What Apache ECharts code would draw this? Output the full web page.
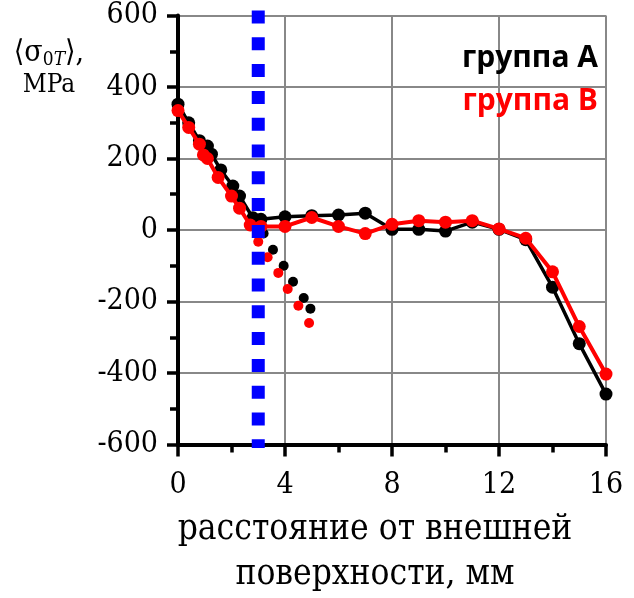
<!DOCTYPE html>
<html><head><meta charset="utf-8">
<script src="https://cdn.jsdelivr.net/npm/echarts@6/dist/echarts.min.js"></script>
<style>html,body{margin:0;padding:0;background:#fff}#c{width:634px;height:598px}</style>
</head><body><div id="c"></div>
<script>
// group A main curve
const xA = [0, 0.4, 0.8, 1.1, 1.25, 1.6, 2.05, 2.3, 2.8, 3.1, 4, 5, 6, 7, 8, 9, 10, 11, 12, 13, 14, 15, 16];
const yA = [352, 300, 250, 235, 212, 168, 123, 95, 34, 30, 37, 40, 42, 47, 2, 2, -3, 22, 2, -27, -160, -318, -459];
// group B main curve
const xB = [0, 0.4, 0.8, 0.95, 1.1, 1.5, 2.0, 2.3, 2.7, 3.1, 4, 5, 6, 7, 8, 9, 10, 11, 12, 13, 14, 15, 16];
const yB = [334, 287, 240, 210, 200, 147, 95, 61, 14, 10, 10, 35, 10, -10, 16, 26, 22, 26, 3, -23, -117, -270, -403];
// separate dots (no line)
const xDotA = [3.2, 3.55, 3.95, 4.3, 4.7, 4.95];
const yDotA = [-10, -55, -100, -145, -190, -220];
const xDotB = [3.0, 3.35, 3.75, 4.1, 4.5, 4.9];
const yDotB = [-33, -76, -120, -165, -212, -260];
// vertical dotted marker
const markerX = 3;
const markerY = [614, -610];
// axes
const xTicks = [0, 4, 8, 12, 16];
const yTicks = [-600, -400, -200, 0, 200, 400, 600];
const legendNames = ['группа А', 'группа В'];
const xTitle = ['расстояние от внешней', 'поверхности, мм'];

const zip = (a, b) => a.map((v, i) => [v, b[i]]);
const serif = '"DejaVu Serif Condensed", "DejaVu Serif", serif';
const chart = echarts.init(document.getElementById('c'), null, {renderer: 'canvas'});
chart.setOption({
  animation: false,
  backgroundColor: '#fff',
  grid: {left: 178, right: 28, top: 15.5, bottom: 153.5, containLabel: false},
  xAxis: {
    type: 'value', min: xTicks[0], max: xTicks[xTicks.length - 1], interval: 4,
    axisLine: {show: true, onZero: false, lineStyle: {color: '#000', width: 4}},
    axisTick: {show: true, inside: false, length: 12, lineStyle: {color: '#000', width: 3.5}},
    minorTick: {show: true, splitNumber: 2, length: 8, lineStyle: {color: '#000', width: 3.5}},
    axisLabel: {margin: 26, fontFamily: serif, fontSize: 30, color: '#000'},
    splitLine: {show: true, lineStyle: {color: '#888', width: 2}}
  },
  yAxis: {
    type: 'value', min: yTicks[0], max: yTicks[yTicks.length - 1], interval: 200,
    axisLine: {show: true, onZero: false, lineStyle: {color: '#000', width: 4}},
    axisTick: {show: true, inside: false, length: 11, lineStyle: {color: '#000', width: 3.5}},
    minorTick: {show: true, splitNumber: 2, length: 8, lineStyle: {color: '#000', width: 3.5}},
    axisLabel: {margin: 20, fontFamily: serif, fontSize: 30, color: '#000'},
    splitLine: {show: true, lineStyle: {color: '#888', width: 2}}
  },
  series: [
    {type: 'line', data: zip(xA, yA), symbol: 'circle', symbolSize: 13, z: 3,
     itemStyle: {color: '#000', opacity: 1}, lineStyle: {color: '#000', width: 3.5}},
    {type: 'line', data: zip(xB, yB), symbol: 'circle', symbolSize: 13, z: 4,
     itemStyle: {color: '#ff0000', opacity: 1}, lineStyle: {color: '#ff0000', width: 4}},
    {type: 'scatter', data: zip(xDotA, yDotA), symbol: 'circle', symbolSize: 10, z: 3,
     itemStyle: {color: '#000', opacity: 1}},
    {type: 'scatter', data: zip(xDotB, yDotB), symbol: 'circle', symbolSize: 10, z: 4,
     itemStyle: {color: '#ff0000', opacity: 1}},
    {type: 'line', data: markerY.map(v => [markerX, v]), symbol: 'none', clip: false, z: 6,
     lineStyle: {color: '#0000ff', width: 13, type: [13, 13.8], cap: 'butt'}}
  ],
  graphic: [
    {type: 'text', x: 598, y: 58, z: 10, style: {text: legendNames[0], fill: '#000',
      font: 'bold 30px "Open Sans", sans-serif', align: 'right', verticalAlign: 'middle'}},
    {type: 'text', x: 598, y: 101.5, z: 10, style: {text: legendNames[1], fill: '#ff0000',
      font: 'bold 30px "Open Sans", sans-serif', align: 'right', verticalAlign: 'middle'}},
    {type: 'text', x: 375, y: 530, z: 10, style: {text: xTitle[0], fill: '#000',
      font: '35px ' + serif, align: 'center', verticalAlign: 'middle'}},
    {type: 'text', x: 375, y: 575, z: 10, style: {text: xTitle[1], fill: '#000',
      font: '35px ' + serif, align: 'center', verticalAlign: 'middle'}},
    {type: 'text', x: 49, y: 53, z: 10, style: {
      text: '{a|⟨σ}{s|0}{t|T}{a|⟩,}', align: 'center', verticalAlign: 'middle',
      rich: {
        a: {fontFamily: serif, fontSize: 30, color: '#000', lineHeight: 34, verticalAlign: 'middle'},
        s: {fontFamily: serif, fontSize: 19, color: '#000', lineHeight: 34, verticalAlign: 'bottom'},
        t: {fontFamily: serif, fontSize: 19, fontStyle: 'italic', color: '#000', lineHeight: 34, verticalAlign: 'bottom'}
      }}},
    {type: 'text', x: 49, y: 85, z: 10, style: {text: 'MPa', fill: '#000',
      font: '26px ' + serif, align: 'center', verticalAlign: 'middle'}}
  ]
});
</script></body></html>
